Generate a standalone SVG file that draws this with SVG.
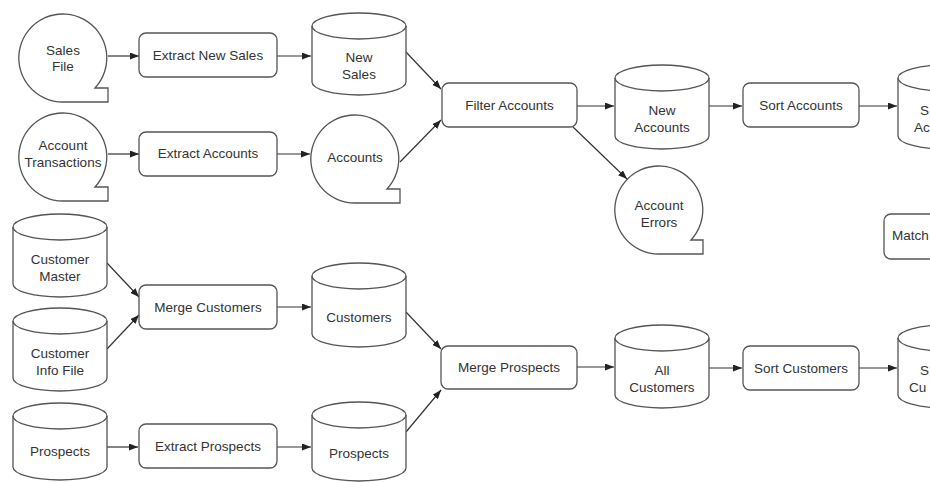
<svg xmlns="http://www.w3.org/2000/svg" width="930" height="482" viewBox="0 0 930 482">
<defs>
<marker id="ah" markerUnits="userSpaceOnUse" markerWidth="9" markerHeight="7" refX="9" refY="3.5" orient="auto">
<path d="M0,0 L9,3.5 L0,7 z" fill="#222"/>
</marker>
<style>
.s{fill:#fff;stroke:#555;stroke-width:1.3}
.f{fill:none;stroke:#555;stroke-width:1.3}
.t{font-family:"Liberation Sans",Arial,sans-serif;font-size:13.5px;fill:#333;text-anchor:middle}
.l{text-anchor:start}
.c{fill:none;stroke:#333;stroke-width:1.2;marker-end:url(#ah)}
</style>
</defs>
<rect width="930" height="482" fill="#fff"/>

<g id="connectors">
<line class="c" x1="108" y1="56" x2="139" y2="56"/>
<line class="c" x1="277" y1="56" x2="311" y2="56"/>
<line class="c" x1="108" y1="154" x2="139" y2="154"/>
<line class="c" x1="277" y1="154" x2="310" y2="154"/>
<line class="c" x1="406" y1="52" x2="441" y2="89"/>
<line class="c" x1="400" y1="162" x2="441" y2="120"/>
<line class="c" x1="577" y1="106" x2="614" y2="106"/>
<line class="c" x1="573" y1="127" x2="627" y2="179"/>
<line class="c" x1="709" y1="106" x2="742" y2="106"/>
<line class="c" x1="859" y1="106" x2="897" y2="106"/>
<line class="c" x1="107" y1="263" x2="139" y2="297"/>
<line class="c" x1="107" y1="349" x2="139" y2="315"/>
<line class="c" x1="277" y1="307" x2="311" y2="307"/>
<line class="c" x1="406" y1="312" x2="441" y2="349"/>
<line class="c" x1="406" y1="432" x2="441" y2="390"/>
<line class="c" x1="577" y1="367" x2="614" y2="367"/>
<line class="c" x1="709" y1="368" x2="742" y2="368"/>
<line class="c" x1="859" y1="368" x2="897" y2="368"/>
<line class="c" x1="107" y1="447" x2="138" y2="447"/>
<line class="c" x1="277" y1="447" x2="311" y2="447"/>
</g>

<g id="sales-file">
<path class="s" d="M63,102 A44,44 0 1 1 95,88 L108,88 L108,102 Z"/>
<text class="t" x="63" y="55">Sales</text>
<text class="t" x="63" y="71">File</text>
</g>
<g id="account-transactions">
<path class="s" d="M63,201 A44,44 0 1 1 95,187 L108,187 L108,201 Z"/>
<text class="t" x="63" y="150">Account</text>
<text class="t" x="63" y="167">Transactions</text>
</g>
<g id="extract-new-sales">
<rect class="s" x="139" y="33" width="138" height="44" rx="7"/>
<text class="t" x="208" y="59.5">Extract New Sales</text>
</g>
<g id="extract-accounts">
<rect class="s" x="139" y="132" width="138" height="44" rx="7"/>
<text class="t" x="208" y="158">Extract Accounts</text>
</g>
<g id="new-sales">
<path class="s" d="M312,26 A47,13 0 0 1 406,26 L406,82 A47,13 0 0 1 312,82 Z"/>
<path class="f" d="M312,26 A47,13 0 0 0 406,26"/>
<text class="t" x="359" y="61.5">New</text>
<text class="t" x="359" y="78.5">Sales</text>
</g>
<g id="accounts">
<path class="s" d="M355,203 A44,44 0 1 1 387,189 L400,189 L400,203 Z"/>
<text class="t" x="355" y="161.5">Accounts</text>
</g>
<g id="filter-accounts">
<rect class="s" x="442" y="83" width="135" height="44" rx="7"/>
<text class="t" x="509.5" y="109.5">Filter Accounts</text>
</g>
<g id="new-accounts">
<path class="s" d="M615,78 A47,13 0 0 1 709,78 L709,136 A47,13 0 0 1 615,136 Z"/>
<path class="f" d="M615,78 A47,13 0 0 0 709,78"/>
<text class="t" x="662" y="114.5">New</text>
<text class="t" x="662" y="131.5">Accounts</text>
</g>
<g id="account-errors">
<path class="s" d="M659,254 A44,44 0 1 1 691,240 L703,240 L703,254 Z"/>
<text class="t" x="659" y="209.5">Account</text>
<text class="t" x="659" y="226.5">Errors</text>
</g>
<g id="sort-accounts">
<rect class="s" x="743" y="83" width="116" height="44" rx="7"/>
<text class="t" x="801" y="109.5">Sort Accounts</text>
</g>
<g id="sorted-accounts">
<path class="s" d="M898,78 A47,13 0 0 1 992,78 L992,136 A47,13 0 0 1 898,136 Z"/>
<path class="f" d="M898,78 A47,13 0 0 0 992,78"/>
<text class="t l" x="920" y="114.5">S</text>
<text class="t l" x="914" y="131.5">Ac</text>
</g>
<g id="match">
<rect class="s" x="884" y="214" width="138" height="45" rx="7"/>
<text class="t l" x="892" y="240">Match</text>
</g>

<g id="customer-master">
<path class="s" d="M13,227 A47,13 0 0 1 107,227 L107,284 A47,13 0 0 1 13,284 Z"/>
<path class="f" d="M13,227 A47,13 0 0 0 107,227"/>
<text class="t" x="60" y="263.5">Customer</text>
<text class="t" x="60" y="280.5">Master</text>
</g>
<g id="customer-info-file">
<path class="s" d="M13,321 A47,13 0 0 1 107,321 L107,378 A47,13 0 0 1 13,378 Z"/>
<path class="f" d="M13,321 A47,13 0 0 0 107,321"/>
<text class="t" x="60" y="357.5">Customer</text>
<text class="t" x="60" y="374.5">Info File</text>
</g>
<g id="merge-customers">
<rect class="s" x="139" y="285" width="138" height="44" rx="7"/>
<text class="t" x="208" y="311.5">Merge Customers</text>
</g>
<g id="customers">
<path class="s" d="M312,276 A47,13 0 0 1 406,276 L406,334 A47,13 0 0 1 312,334 Z"/>
<path class="f" d="M312,276 A47,13 0 0 0 406,276"/>
<text class="t" x="359" y="321.5">Customers</text>
</g>
<g id="prospects-source">
<path class="s" d="M13,416 A47,13 0 0 1 107,416 L107,467 A47,13 0 0 1 13,467 Z"/>
<path class="f" d="M13,416 A47,13 0 0 0 107,416"/>
<text class="t" x="60" y="455.5">Prospects</text>
</g>
<g id="extract-prospects">
<rect class="s" x="139" y="424" width="138" height="44" rx="7"/>
<text class="t" x="208" y="450.5">Extract Prospects</text>
</g>
<g id="prospects">
<path class="s" d="M312,415 A47,13 0 0 1 406,415 L406,468 A47,13 0 0 1 312,468 Z"/>
<path class="f" d="M312,415 A47,13 0 0 0 406,415"/>
<text class="t" x="359" y="457.5">Prospects</text>
</g>
<g id="merge-prospects">
<rect class="s" x="441" y="346" width="136" height="43" rx="7"/>
<text class="t" x="509" y="372">Merge Prospects</text>
</g>
<g id="all-customers">
<path class="s" d="M615,338 A47,13 0 0 1 709,338 L709,395 A47,13 0 0 1 615,395 Z"/>
<path class="f" d="M615,338 A47,13 0 0 0 709,338"/>
<text class="t" x="662" y="374.5">All</text>
<text class="t" x="662" y="391.5">Customers</text>
</g>
<g id="sort-customers">
<rect class="s" x="743" y="346" width="116" height="44" rx="7"/>
<text class="t" x="801" y="372.5">Sort Customers</text>
</g>
<g id="sorted-customers">
<path class="s" d="M898,338 A47,13 0 0 1 992,338 L992,395 A47,13 0 0 1 898,395 Z"/>
<path class="f" d="M898,338 A47,13 0 0 0 992,338"/>
<text class="t l" x="920" y="374.5">S</text>
<text class="t l" x="909" y="391.5">Cu</text>
</g>
</svg>
